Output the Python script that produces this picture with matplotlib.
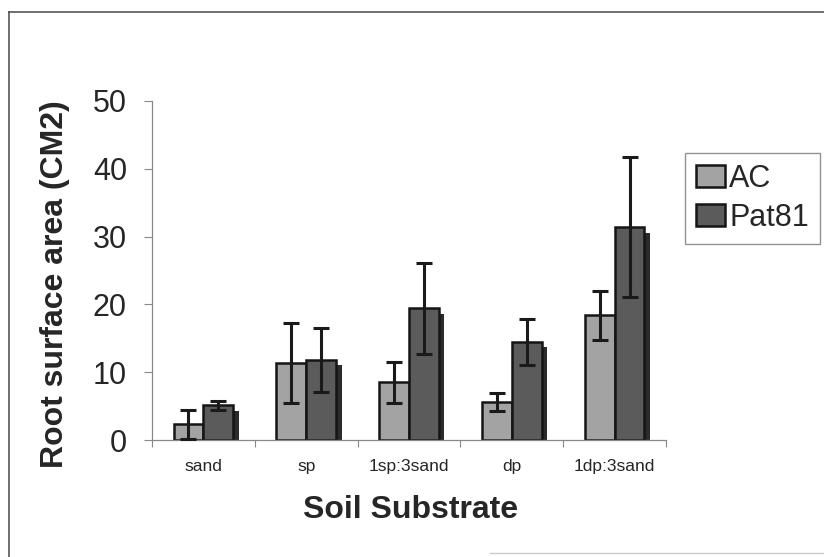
import numpy as np
import matplotlib
matplotlib.use("Agg")
import matplotlib.pyplot as plt
from matplotlib.lines import Line2D

# Dati
substrates = ["sand", "sp", "1sp:3sand", "dp", "1dp:3sand"]
ac_mean = [2.3, 11.3, 8.5, 5.6, 18.4]
ac_err = [2.1, 5.9, 3.0, 1.3, 3.6]
pat81_mean = [5.1, 11.8, 19.4, 14.5, 31.4]
pat81_err = [0.65, 4.7, 6.7, 3.4, 10.3]

plt.rcParams['font.family'] = ['Liberation Sans', 'DejaVu Sans']
text_col = "#262626"

fig = plt.figure(figsize=(8.24, 5.57), dpi=100)
ax = fig.add_axes([152/824, 1-440/557, 514/824, 339/557])

x = np.arange(len(substrates))
w = 0.29
sh_dx = 0.055
sh_dy = 0.8

# ombra delle barre (effetto excel)
for means, off in [(ac_mean, -w/2), (pat81_mean, w/2)]:
    ax.bar(x + off + sh_dx, np.array(means) - sh_dy, width=w, color="#2b2b2b",
           linewidth=0, zorder=1)

ax.bar(x - w/2, ac_mean, width=w, color="#a3a3a3", edgecolor="#151515",
       linewidth=1.8, zorder=2, label="AC")
ax.bar(x + w/2, pat81_mean, width=w, color="#5b5b5b", edgecolor="#151515",
       linewidth=1.8, zorder=2, label="Pat81")

ax.errorbar(x - w/2, ac_mean, yerr=ac_err, fmt="none", ecolor="#1a1a1a",
            elinewidth=2.2, capsize=5.8, capthick=2.2, zorder=3)
ax.errorbar(x + w/2, pat81_mean, yerr=pat81_err, fmt="none", ecolor="#1a1a1a",
            elinewidth=2.2, capsize=5.8, capthick=2.2, zorder=3)

ax.set_xlim(-0.5, len(substrates) - 0.5)
ax.set_ylim(0, 50)
ax.set_yticks(np.arange(0, 51, 10))
ax.tick_params(axis="y", direction="out", length=6, width=0.8, color="#888888",
               labelsize=22, labelcolor=text_col, pad=12)

# tick maggiori ai confini delle categorie, etichette al centro
ax.set_xticks(np.arange(-0.5, len(substrates), 1.0))
ax.set_xticklabels([])
ax.set_xticks(x, minor=True)
ax.set_xticklabels(substrates, minor=True)
ax.tick_params(axis="x", which="major", direction="out", length=5, width=0.8, color="#888888")
ax.tick_params(axis="x", which="minor", length=0, labelsize=12.5, labelcolor=text_col, pad=14)

for s in ["top", "right"]:
    ax.spines[s].set_visible(False)
for s in ["left", "bottom"]:
    ax.spines[s].set_color("#888888")
    ax.spines[s].set_linewidth(0.9)

fig.text(55/824, 1-284/557, "Root surface area (CM2)", rotation=90, ha="center",
         va="center", fontsize=23, fontweight="bold", color=text_col)
fig.text(411/824, 1-510/557, "Soil Substrate", ha="center", va="center",
         fontsize=23, fontweight="bold", color=text_col)

leg = ax.legend(loc="upper left", bbox_to_anchor=(685/824, 1-153/557),
                bbox_transform=fig.transFigure, borderaxespad=0, fontsize=22,
                frameon=True, fancybox=False, handlelength=0.95, handleheight=0.7,
                handletextpad=0.15, borderpad=0.35, labelspacing=0.3)
leg.get_frame().set_edgecolor("#777777")
leg.get_frame().set_linewidth(1.0)
for t in leg.get_texts():
    t.set_color(text_col)

# cornice esterna
fig.add_artist(Line2D([9/824, 1], [1-12/557, 1-12/557], color="#555555", lw=1.2))
fig.add_artist(Line2D([9/824, 9/824], [1-12/557, 0], color="#555555", lw=1.2))
fig.add_artist(Line2D([490/824, 1], [4/557, 4/557], color="#cccccc", lw=1.0))

fig.savefig("out.png", dpi=100)
